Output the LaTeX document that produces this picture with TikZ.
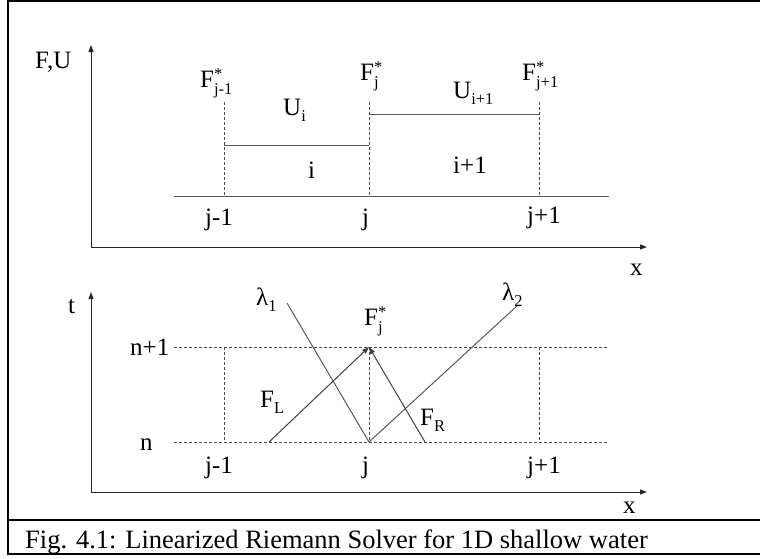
\documentclass[tikz,border=0pt]{standalone}
\usepackage{fontspec}
\setmainfont{Liberation Serif}
\usetikzlibrary{arrows.meta}
\newcommand{\lbl}{\fontsize{25}{29}\selectfont}
\newcommand{\sml}{\fontsize{16.5}{18}\selectfont}
\newcommand{\mysub}[1]{\raisebox{-6pt}{\sml #1}}
\newcommand{\Fstar}[1]{F\rlap{\raisebox{8pt}{\sml *}}\raisebox{-7pt}{\sml #1}}
\begin{document}
\begin{tikzpicture}[x=1pt,y=-1pt,
  txt/.style={inner sep=0pt,anchor=base west,font=\lbl},
  axisline/.style={line width=1pt,black!85,-{Triangle[length=7pt,width=5pt]}},
  thinline/.style={line width=1pt,black!65},
  dashline/.style={line width=1pt,black!70,dash pattern=on 3pt off 2pt},
  flux/.style={line width=1pt,black!75,-{Triangle[length=7pt,width=5pt]}},
  frameline/.style={line width=2pt,black}]
\useasboundingbox (0,0) rectangle (760,558);
% frame
\coordinate (fa) at (760,1);
\coordinate (fb) at (8,1);
\coordinate (fc) at (8,554);
\coordinate (fd) at (760,554);
\coordinate (fe) at (8,520);
\coordinate (ff) at (760,520);
\draw[frameline] (fa) -- (fb) -- (fc) -- (fd);
\draw[frameline] (fe) -- (ff);
\node[txt,font=\fontsize{26.5}{30}\selectfont] (cap) at (25,548) {Fig. 4.1: Linearized Riemann Solver for 1D shallow water};

% ---------- top panel ----------
\coordinate (o1) at (91,247);
\coordinate (y1) at (91,45);
\coordinate (x1) at (647,247);
\draw[axisline] (o1) -- (y1);
\draw[axisline] (o1) -- (x1);
\coordinate (b1) at (174,196);
\coordinate (b2) at (609,196);
\draw[thinline] (b1) -- (b2);
\coordinate (ta) at (224,102); \coordinate (tab) at (224,196);
\coordinate (tb) at (369,102); \coordinate (tbb) at (369,196);
\coordinate (tc) at (539,102); \coordinate (tcb) at (539,196);
\draw[dashline] (ta) -- (tab);
\draw[dashline] (tb) -- (tbb);
\draw[dashline] (tc) -- (tcb);
\coordinate (s1a) at (224,145); \coordinate (s1b) at (369,145);
\coordinate (s2a) at (369,114); \coordinate (s2b) at (539,114);
\draw[thinline] (s1a) -- (s1b);
\draw[thinline] (s2a) -- (s2b);

\node[txt] (FU) at (35,68) {F,U};
\node[txt] (Fjm1) at (200,87) {\Fstar{j-1}};
\node[txt] (Fj) at (360,80) {\Fstar{j}};
\node[txt] (Fjp1) at (522,80) {\Fstar{j+1}};
\node[txt] (Ui) at (283,115) {U\mysub{i}};
\node[txt] (Uip1) at (453,98) {U\mysub{i+1}};
\node[txt] (ci) at (308,178) {i};
\node[txt] (cip1) at (453,173) {i+1};
\node[txt] (jm1) at (205,225) {j-1};
\node[txt] (j) at (362,225) {j};
\node[txt] (jp1) at (527,223) {j+1};
\node[txt] (xt) at (630,275) {x};

% ---------- bottom panel ----------
\coordinate (o2) at (91,492);
\coordinate (y2) at (91,292);
\coordinate (x2) at (647,492);
\draw[axisline] (o2) -- (y2);
\draw[axisline] (o2) -- (x2);
\coordinate (h1a) at (174,347); \coordinate (h1b) at (608,347);
\coordinate (h2a) at (174,442); \coordinate (h2b) at (608,442);
\draw[dashline] (h1a) -- (h1b);
\draw[dashline] (h2a) -- (h2b);
\coordinate (va) at (224,347); \coordinate (vab) at (224,442);
\coordinate (vb) at (369,347); \coordinate (vbb) at (369,442);
\coordinate (vc) at (539,347); \coordinate (vcb) at (539,442);
\draw[dashline] (va) -- (vab);
\draw[dashline] (vb) -- (vbb);
\draw[dashline] (vc) -- (vcb);
\coordinate (l1) at (287,303);
\coordinate (l2) at (518,305);
\draw[thinline] (l1) -- (vbb);
\draw[thinline] (vbb) -- (l2);
\coordinate (fl) at (269,442);
\coordinate (fr) at (425,442);
\draw[flux] (fl) -- (vb);
\draw[flux] (fr) -- (vb);

\node[txt] (t) at (68,313) {t};
\node[txt] (lam1) at (256,305) {λ\mysub{1}};
\node[txt] (lam2) at (502,300) {λ\mysub{2}};
\node[txt] (Fjb) at (364,325) {\Fstar{j}};
\node[txt] (np1) at (130,355) {n+1};
\node[txt] (FL) at (260,407) {F\mysub{L}};
\node[txt] (n) at (140,450) {n};
\node[txt] (FR) at (420,425) {F\mysub{R}};
\node[txt] (jm1b) at (205,473) {j-1};
\node[txt] (jb) at (362,473) {j};
\node[txt] (jp1b) at (527,473) {j+1};
\node[txt] (xb) at (623,513) {x};
\end{tikzpicture}
\end{document}
